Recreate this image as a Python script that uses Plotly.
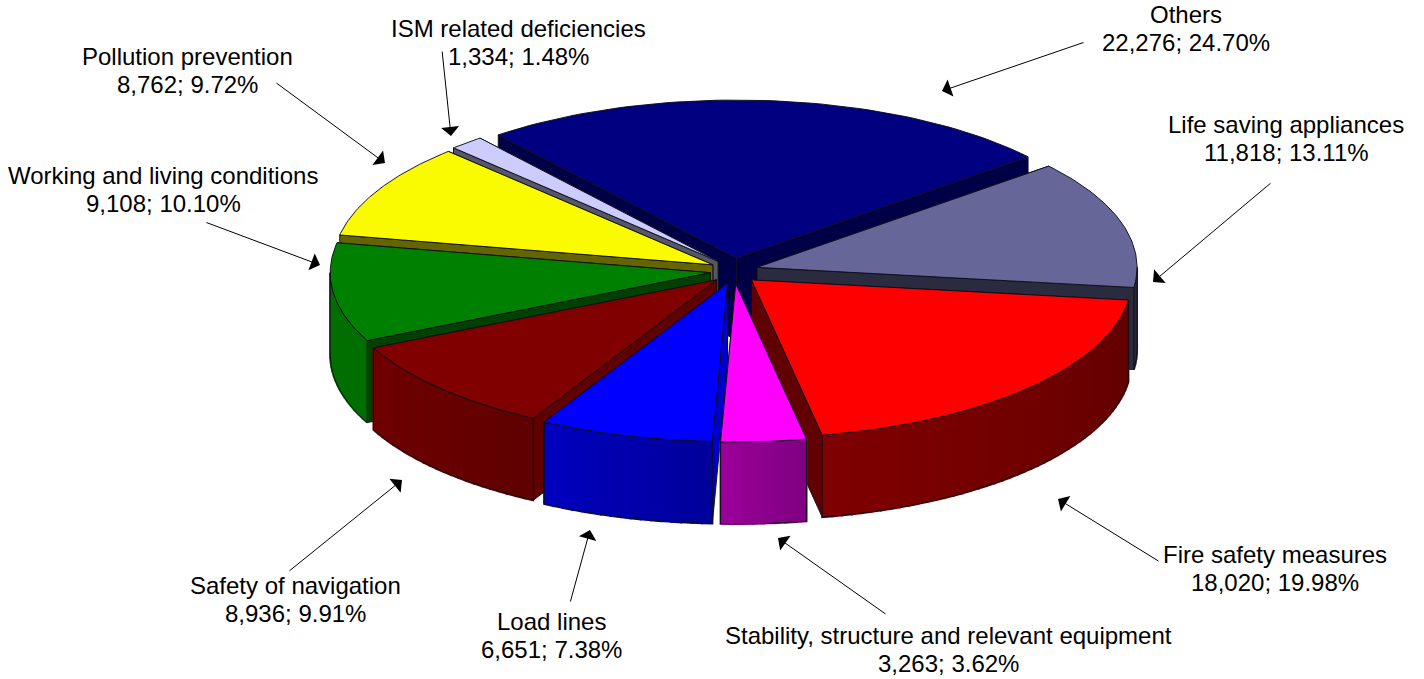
import math
import plotly.graph_objects as go

categories = ["Others", "Life saving appliances", "Fire safety measures",
              "Stability, structure and relevant equipment", "Load lines",
              "Safety of navigation", "Working and living conditions",
              "Pollution prevention", "ISM related deficiencies"]
values = [22276, 11818, 18020, 3263, 6651, 8936, 9108, 8762, 1334]
colors = ["#000080", "#666699", "#FF0000", "#FF00FF", "#0000FF",
          "#800000", "#008000", "#FAFA00", "#CCCCFF"]
cut_shade = [0.55, 0.42, 0.38, 0.6, 0.8, 0.75, 0.5, 0.4, 0.42]

# projection of the tilted pie, in page pixels
CX, CY, RX, RY, DEPTH = 734, 271, 380, 158, 82
EX, EY = 24, 13
START = -38.8
W, H = 1424, 679

# label layout: text centre x, first-line y, arrow tail, arrow head
label_pos = [(1186, 14), (1286, 124), (1275, 554), (948, 635), (551, 621),
             (295, 585), (163, 175), (187, 56), (518, 28)]
arrow_pos = [((1085, 42), (942, 91)), ((1272, 182), (1153, 282)),
             ((1160, 562), (1058, 499)), ((887, 615), (778, 538)),
             ((570, 603), (590, 530)), ((288, 572), (402, 480)),
             ((205, 222), (320, 265)), ((275, 82), (385, 163)),
             ((442, 50), (451, 136))]
# outer wall brightness against pie angle
shade_t = [90, 97, 169.5, 182, 209, 245, 270]
shade_f = [0.36, 0.38, 0.5, 0.6, 0.75, 0.87, 0.87]

def shade(c, f):
    r, g, b = (int(c[i:i + 2], 16) for i in (1, 3, 5))
    return "rgb(%d,%d,%d)" % (round(r * f), round(g * f), round(b * f))

def wall_factor(t):
    for i in range(len(shade_t) - 1):
        if t <= shade_t[i + 1]:
            u = (t - shade_t[i]) / (shade_t[i + 1] - shade_t[i])
            return shade_f[i] + u * (shade_f[i + 1] - shade_f[i])
    return shade_f[-1]

def rim(t, tip, dz=0):
    a = math.radians(t)
    return tip[0] + RX * math.sin(a), tip[1] - RY * math.cos(a) + dz

EDGE = "rgba(15,15,25,0.95)"

def poly(pts, fill, line=EDGE, width=1):
    return go.Scatter(x=[p[0] for p in pts] + [pts[0][0]],
                      y=[p[1] for p in pts] + [pts[0][1]],
                      mode="lines", fill="toself", fillcolor=fill,
                      line=dict(color=line, width=width),
                      hoverinfo="skip", showlegend=False)

total = sum(values)
slices = []
ang = START
for name, v, c, k in zip(categories, values, colors, cut_shade):
    sweep = v / total * 360
    slices.append(dict(name=name, v=v, c=c, k=k, a0=ang, a1=ang + sweep, mid=ang + sweep / 2))
    ang += sweep

fig = go.Figure()
for s in sorted(slices, key=lambda s: -math.cos(math.radians(s["mid"]))):
    m = math.radians(s["mid"])
    tip = (CX + EX * math.sin(m), CY - EY * math.cos(m))
    tipb = (tip[0], tip[1] + DEPTH)
    dark = shade(s["c"], s["k"])
    # radial cut walls, rear one first
    for t in sorted((s["a0"], s["a1"]), key=lambda t: -math.cos(math.radians(t))):
        p, pb = rim(t, tip), rim(t, tip, DEPTH)
        fig.add_trace(poly([tip, p, pb, tipb], dark))
    # outer wall, split into strips for the shading
    lo, hi = max(s["a0"], 90), min(s["a1"], 270)
    if hi > lo:
        n = max(1, int((hi - lo) / 1.5))
        for i in range(n):
            t0 = lo + (hi - lo) * i / n
            t1 = lo + (hi - lo) * (i + 1) / n
            col = shade(s["c"], wall_factor((t0 + t1) / 2))
            fig.add_trace(poly([rim(t0, tip), rim(t1, tip), rim(t1, tip, DEPTH), rim(t0, tip, DEPTH)],
                               col, line=col, width=2))
        ts = [lo + (hi - lo) * i / 40 for i in range(41)]
        outline = [rim(t, tip) for t in ts] + [rim(t, tip, DEPTH) for t in reversed(ts)]
        fig.add_trace(go.Scatter(x=[p[0] for p in outline] + [outline[0][0]],
                                 y=[p[1] for p in outline] + [outline[0][1]],
                                 mode="lines", line=dict(color=EDGE, width=1),
                                 hoverinfo="skip", showlegend=False))
    # top face
    ts = [s["a0"] + (s["a1"] - s["a0"]) * i / 60 for i in range(61)]
    fig.add_trace(poly([tip] + [rim(t, tip) for t in ts], s["c"]))

FONT = dict(family="Liberation Sans, Arial, sans-serif", size=24, color="black")
annotations = []
for s, (tx, ty), (tail, head) in zip(slices, label_pos, arrow_pos):
    pct = s["v"] / total * 100
    annotations.append(dict(x=tx, y=ty, text=s["name"], showarrow=False, font=FONT,
                            xref="x", yref="y", xanchor="center", yanchor="middle"))
    annotations.append(dict(x=tx, y=ty + 28, text=f"{s['v']:,}; {pct:.2f}%", showarrow=False, font=FONT,
                            xref="x", yref="y", xanchor="center", yanchor="middle"))
    annotations.append(dict(x=head[0], y=head[1], ax=tail[0], ay=tail[1], axref="x", ayref="y",
                            xref="x", yref="y", text="", showarrow=True, arrowhead=1,
                            arrowsize=3, arrowwidth=1, arrowcolor="black"))

fig.update_layout(width=W, height=H, margin=dict(l=0, r=0, t=0, b=0),
                  paper_bgcolor="white", plot_bgcolor="white", showlegend=False,
                  xaxis=dict(range=[0, W], visible=False, fixedrange=True),
                  yaxis=dict(range=[H, 0], visible=False, fixedrange=True),
                  annotations=annotations)
fig.write_html("out.html", config=dict(displayModeBar=False),
               post_script="document.body.style.margin='0';document.body.style.overflow='hidden';")
